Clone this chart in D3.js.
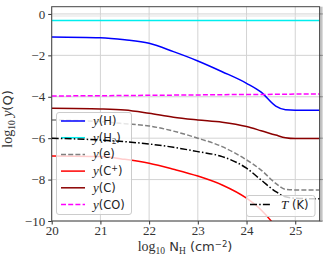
<!DOCTYPE html>
<html><head><meta charset="utf-8">
<script src="https://cdn.jsdelivr.net/npm/d3@7"></script>
<style>body{margin:0;background:#fff}svg{display:block}</style>
</head><body>
<script>
// data
const xs   = [20, 21, 21.5, 22, 22.5, 23, 23.5, 24, 24.3, 24.6, 24.8, 25, 25.5];
const yH   = [-1.11,-1.15,-1.25,-1.42,-1.82,-2.27,-2.79,-3.35,-3.78,-4.45,-4.63,-4.65,-4.65];
const yH2  = [-0.32,-0.32,-0.32,-0.32,-0.32,-0.32,-0.32,-0.32,-0.32,-0.32,-0.32,-0.32,-0.32];
const ye   = [-5.12,-5.2,-5.3,-5.41,-5.66,-6.0,-6.41,-7.05,-7.54,-8.18,-8.47,-8.5,-8.5];
const yCp  = [-6.86,-6.89,-7.02,-7.21,-7.5,-7.83,-8.26,-8.9,-9.47,-10.27,-10.9,-11.5,-13];
const yC   = [-4.56,-4.59,-4.64,-4.8,-4.99,-5.12,-5.23,-5.44,-5.64,-5.85,-5.98,-6.02,-6.02];
const yCO  = [-3.96,-3.95,-3.94,-3.93,-3.92,-3.91,-3.9,-3.89,-3.89,-3.88,-3.88,-3.87,-3.87];
const T    = [-6.0,-6.09,-6.17,-6.28,-6.44,-6.65,-6.89,-7.45,-8.02,-8.58,-8.83,-8.9,-8.93];
const xTicks = [20,21,22,23,24,25];
const yTicks = [0,-2,-4,-6,-8,-10];

const W=323,H=263;
const L=51.7,R=319.6,Tp=6.7,B=221;
const svg=d3.select("body").append("svg").attr("width",W).attr("height",H);
const x=d3.scaleLinear().domain([20,25.5]).range([L,R]);
const y=d3.scaleLinear().domain([-10,0.35]).range([B,Tp]);

svg.append("defs").append("clipPath").attr("id","clip")
  .append("rect").attr("x",L).attr("y",Tp).attr("width",R-L).attr("height",B-Tp);

// grid
const g=svg.append("g");
xTicks.forEach(t=>g.append("line").attr("x1",x(t)).attr("x2",x(t)).attr("y1",Tp).attr("y2",B)
  .attr("stroke","#d3d3d3").attr("stroke-width",1));
yTicks.forEach(t=>g.append("line").attr("x1",L).attr("x2",R).attr("y1",y(t)).attr("y2",y(t))
  .attr("stroke","#d3d3d3").attr("stroke-width",1));
g.append("line").attr("x1",L).attr("x2",R).attr("y1",16).attr("y2",16).attr("stroke","#e3e3e3");

const line=d3.line().x((d,i)=>x(xs[i])).y(d=>y(d)).curve(d3.curveMonotoneX);
const plot=svg.append("g").attr("clip-path","url(#clip)");
const series=[
  {v:yH,c:"#0000ff",d:null},
  {v:yH2,c:"#00eeee",d:null},
  {v:ye,c:"#808080",d:"5,2.2"},
  {v:yCp,c:"#ff0000",d:null},
  {v:yC,c:"#8b0000",d:null},
  {v:yCO,c:"#ff00ff",d:"5,2.2"}
];
series.forEach(s=>plot.append("path").attr("d",line(s.v)).attr("fill","none")
  .attr("stroke",s.c).attr("stroke-width",1.5).attr("stroke-dasharray",s.d));

// axes
const ax=d3.axisBottom(x).tickValues(xTicks).tickSize(3.5).tickPadding(2).tickFormat(d3.format("d"));
const ay=d3.axisLeft(y).tickValues(yTicks).tickSize(3.5).tickPadding(3).tickFormat(d=>d<0?"\u2212"+(-d):d);
const gx=svg.append("g").attr("transform",`translate(0,${B})`).call(ax);
const gy=svg.append("g").attr("transform",`translate(${L},0)`).call(ay);
[gx,gy].forEach(a=>{a.select(".domain").remove();a.selectAll("line").attr("stroke","#333");
  a.selectAll("text").attr("font-family","Liberation Serif, DejaVu Serif, serif").attr("font-size",13).attr("fill","#333");});
gx.selectAll("text").attr("dy","0.68em");
// right ticks
yTicks.forEach(t=>svg.append("line").attr("x1",R).attr("x2",R+3).attr("y1",y(t)).attr("y2",y(t)).attr("stroke","#333"));
svg.append("rect").attr("x",R+0.5).attr("y",Tp).attr("width",2.5).attr("height",B-Tp).attr("fill","#aaa").attr("opacity",0.7);
// spines
svg.append("rect").attr("x",L).attr("y",Tp).attr("width",R-L).attr("height",B-Tp)
  .attr("fill","none").attr("stroke","#444").attr("stroke-width",1);

// legend 1
const lg=svg.append("g");
lg.append("rect").attr("x",56.5).attr("y",112.5).attr("width",75).attr("height",102).attr("rx",2.5)
  .attr("fill","#fff").attr("fill-opacity",0.8).attr("stroke","#ccc").attr("stroke-width",1);
const labs=[["H",""],["H","2"],["e",""],["C","+"],["C",""],["CO",""]];
series.forEach((s,i)=>{
  const yy=121+i*16.7;
  lg.append("line").attr("x1",61).attr("x2",85).attr("y1",yy).attr("y2",yy)
    .attr("stroke",s.c).attr("stroke-width",1.5).attr("stroke-dasharray",s.d);
  const t=lg.append("text").attr("x",93).attr("y",yy+4).attr("font-size",11.5).attr("fill","#222")
    .attr("font-family","DejaVu Sans, sans-serif");
  t.append("tspan").attr("font-family","Liberation Serif, serif").attr("font-style","italic").attr("font-size",13).text("y");
  t.append("tspan").text("("+labs[i][0]);
  if(labs[i][1]==="2") t.append("tspan").attr("font-family","Liberation Serif, serif").attr("font-size",8.5).attr("dy",2.5).text("2");
  if(labs[i][1]==="+") t.append("tspan").attr("font-size",8).attr("dy",-4).text("+");
  const close=t.append("tspan").text(")");
  if(labs[i][1]==="2") close.attr("dy",-2.5);
  if(labs[i][1]==="+") close.attr("dy",4);
});

// T on twin axis (drawn above legend 1)
svg.append("g").attr("clip-path","url(#clip)").append("path").attr("d",line(T)).attr("fill","none")
  .attr("stroke","#000").attr("stroke-width",1.5).attr("stroke-dasharray","7,2.2,1.5,2.2");
// legend 2
const l2=svg.append("g");
l2.append("rect").attr("x",246.5).attr("y",195.5).attr("width",68.5).attr("height",21).attr("rx",2.5)
  .attr("fill","#fff").attr("fill-opacity",0.8).attr("stroke","#ccc");
l2.append("line").attr("x1",250).attr("x2",272).attr("y1",204.5).attr("y2",204.5)
  .attr("stroke","#000").attr("stroke-width",1.5).attr("stroke-dasharray","7,2.2,1.5,2.2");
const t2=l2.append("text").attr("x",281).attr("y",209).attr("font-size",11.5).attr("fill","#222").attr("font-family","DejaVu Sans, sans-serif");
t2.append("tspan").attr("font-family","Liberation Serif, serif").attr("font-style","italic").attr("font-size",13).text("T");
t2.append("tspan").text(" (K)");

// axis labels
const xl=svg.append("text").attr("x",185).attr("y",251).attr("text-anchor","middle").attr("fill","#333")
  .attr("font-size",13).attr("font-family","DejaVu Sans, sans-serif");
xl.append("tspan").attr("font-family","Liberation Serif, serif").attr("font-size",14).text("log");
xl.append("tspan").attr("font-family","Liberation Serif, serif").attr("font-size",9.5).attr("dy",3).text("10");
xl.append("tspan").attr("dy",-3).text(" N");
xl.append("tspan").attr("font-family","Liberation Serif, serif").attr("font-size",9.5).attr("dy",3).text("H");
xl.append("tspan").attr("dy",-3).text(" (cm");
xl.append("tspan").attr("font-size",8.5).attr("dy",-4.5).text("\u22122");
xl.append("tspan").attr("dy",4.5).text(")");

const yl=svg.append("text").attr("transform","translate(12,119) rotate(-90)").attr("text-anchor","middle").attr("fill","#333")
  .attr("font-size",13).attr("font-family","DejaVu Sans, sans-serif");
yl.append("tspan").attr("font-family","Liberation Serif, serif").attr("font-size",14).text("log");
yl.append("tspan").attr("font-family","Liberation Serif, serif").attr("font-size",9.5).attr("dy",3).text("10");
yl.append("tspan").attr("dy",-3).attr("font-family","Liberation Serif, serif").attr("font-style","italic").attr("font-size",14).text(" y");
yl.append("tspan").text("(Q)");
</script>
</body></html>
